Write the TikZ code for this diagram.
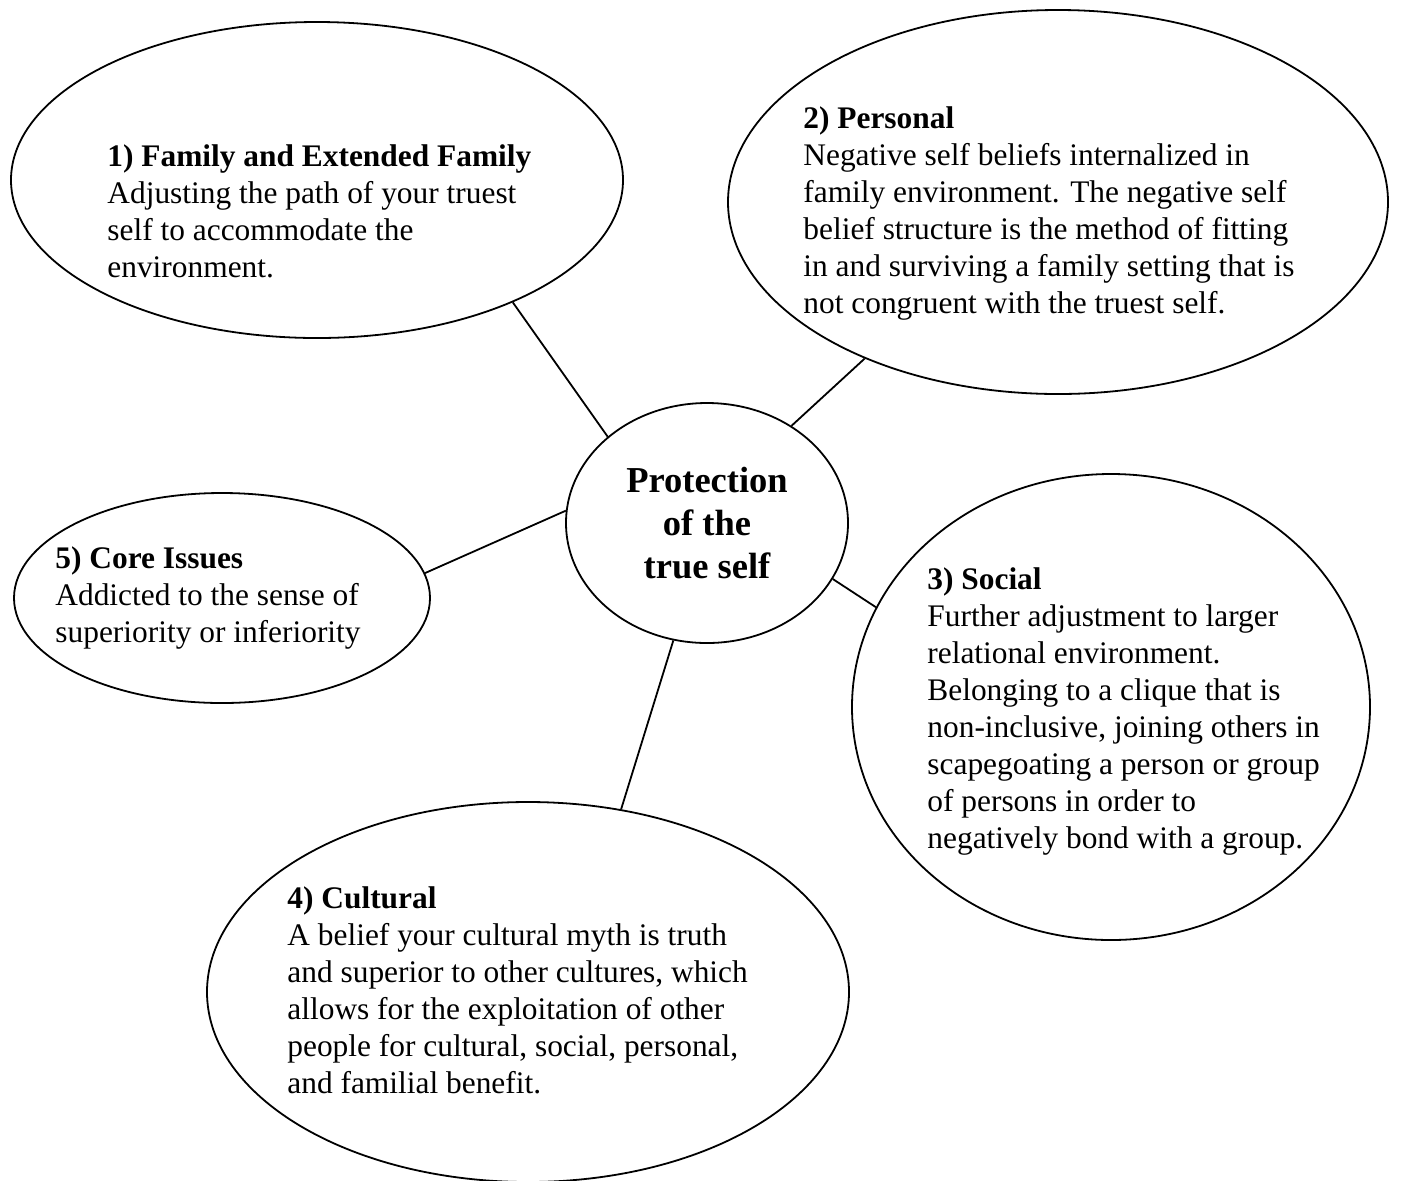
\documentclass[tikz,border=0pt]{standalone}
\usepackage{fontspec}
\setmainfont{Liberation Serif}
\usetikzlibrary{shapes.geometric}

\begin{document}
\begin{tikzpicture}[x=0.5pt, y=-0.5pt,
    bubble/.style={draw, ellipse, line width=0.9pt, inner sep=0pt},
    bubbletext/.style={anchor=north west, align=left, inner sep=0pt,
        font=\fontsize{15.7}{18.5}\selectfont},
    link/.style={line width=0.9pt}]
    % 1. page
    \useasboundingbox (0,0) rectangle (1403,1180);

    % 2. the five ellipses and the centre
    \node[bubble, minimum width=306pt, minimum height=158pt] (family) at (317,180) {};
    \node[bubble, minimum width=330pt, minimum height=192pt] (personal) at (1058,202) {};
    \node[bubble, minimum width=259pt, minimum height=233pt] (social) at (1111,707) {};
    \node[bubble, minimum width=321pt, minimum height=190pt] (cultural) at (528,992) {};
    \node[bubble, minimum width=208pt, minimum height=105pt] (core) at (222,598) {};
    \node[bubble, minimum width=141pt, minimum height=120pt, align=center,
        font=\fontsize{18.25}{21.5}\selectfont\bfseries] (centre) at (707,523)
        {Protection\\of the\\true self};

    % 3. texts inside the ellipses
    \node[bubbletext] (familytext) at (107,144)
        {\textbf{1) Family and Extended Family}\\Adjusting the path of your truest\\self to accommodate the\\environment.};
    \node[bubbletext] (personaltext) at (803,106)
        {\textbf{2) Personal}\\Negative self beliefs internalized in\\family environment. The negative self\\belief structure is the method of fitting\\in and surviving a family setting that is\\not congruent with the truest self.};
    \node[bubbletext] (socialtext) at (927,567)
        {\textbf{3) Social}\\Further adjustment to larger\\relational environment.\\Belonging to a clique that is\\non-inclusive, joining others in\\scapegoating a person or group\\of persons in order to\\negatively bond with a group.};
    \node[bubbletext] (culturaltext) at (287,886)
        {\textbf{4) Cultural}\\A belief your cultural myth is truth\\and superior to other cultures, which\\allows for the exploitation of other\\people for cultural, social, personal,\\and familial benefit.};
    \node[bubbletext] (coretext) at (55,546)
        {\textbf{5) Core Issues}\\Addicted to the sense of\\superiority or inferiority};

    % 4. links to the centre
    \draw[link] (family.-32.7) -- (centre.139.3);
    \draw[link] (personal.-141.8) -- (centre.49);
    \draw[link] (core.7.1) -- (centre.175.9);
    \draw[link] (social.157.3) -- (centre.-24.9);
    \draw[link] (cultural.63.6) -- (centre.-106.9);
\end{tikzpicture}
\end{document}
